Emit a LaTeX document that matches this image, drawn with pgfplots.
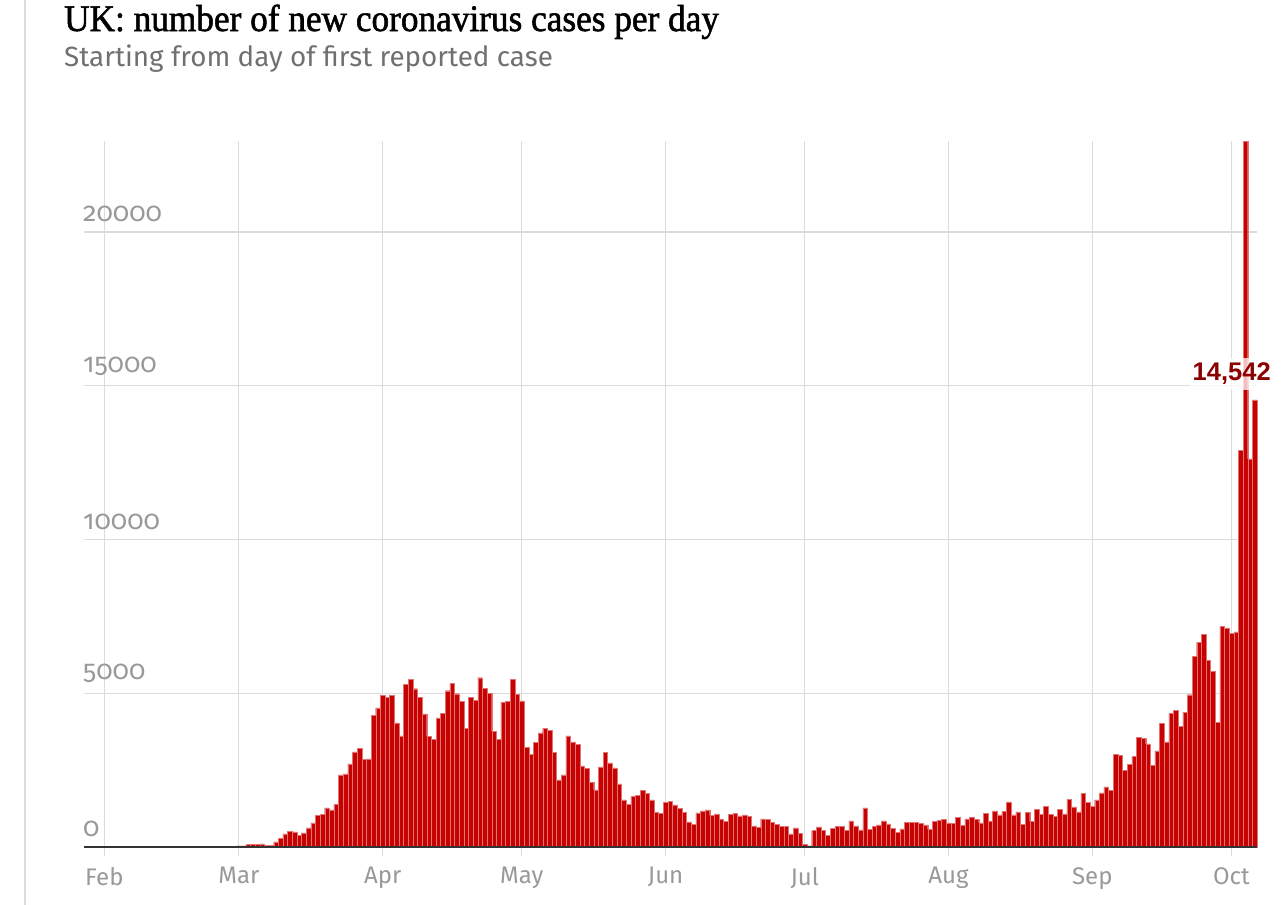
\documentclass[border=0pt]{standalone}
\usepackage{fontspec}
\usepackage{pgfplots}
\usepackage{pgfplotstable}
\pgfplotsset{compat=1.18}
\setmainfont{Fira Sans}
\newfontfamily\titlefont[FakeStretch=0.94,FakeBold=1.5]{Liberation Serif}
\newfontfamily\subfont{Fira Sans}
\newfontfamily\tickfont[Numbers=OldStyle]{Fira Sans}
\newfontfamily\labfont{Liberation Sans}
\definecolor{gred}{HTML}{C70000}
\definecolor{labred}{HTML}{8B0000}
\definecolor{gridc}{HTML}{DCDCDC}
\definecolor{tickgray}{HTML}{999999}
\definecolor{subgray}{HTML}{707070}
\definecolor{axisc}{HTML}{333333}

\pgfplotstableread{
d v
-1 2
0 0
1 0
2 0
3 0
4 0
5 1
6 0
7 1
8 0
9 4
10 0
11 0
12 1
13 0
14 0
15 0
16 0
17 0
18 0
19 0
20 0
21 0
22 0
23 0
24 4
25 0
26 3
27 8
28 20
29 40
30 40
31 76
32 76
33 76
34 98
35 65
36 65
37 163
38 272
39 424
40 500
41 489
42 380
43 456
44 619
45 782
46 1021
47 1064
48 1271
49 1205
50 1390
51 2346
52 2378
53 2704
54 3095
55 3215
56 2845
57 2867
58 4279
59 4528
60 4930
61 4876
62 4930
63 4040
64 3616
65 5300
66 5462
67 5148
68 4865
69 4333
70 3595
71 3508
72 4203
73 4344
74 5082
75 5321
76 4985
77 4735
78 3866
79 4865
80 4778
81 5506
82 5159
83 4996
84 3768
85 3497
86 4713
87 4735
88 5452
89 4974
90 4750
91 3247
92 3008
93 3410
94 3714
95 3855
96 3801
97 3084
98 2183
99 2346
100 3616
101 3421
102 3334
103 2639
104 2552
105 2107
106 1857
107 2606
108 3073
109 2737
110 2574
111 2053
112 1531
113 1379
114 1640
115 1683
116 1835
117 1748
118 1531
119 1129
120 1097
121 1455
122 1488
123 1368
124 1249
125 1129
126 815
127 739
128 1108
129 1173
130 1205
131 1021
132 1075
133 901
134 836
135 1053
136 1097
137 1010
138 1043
139 999
140 684
141 641
142 912
143 901
144 804
145 728
146 662
147 662
148 424
149 619
150 434
151 76
152 33
153 532
154 652
155 543
156 380
157 608
158 662
159 673
160 543
161 847
162 684
163 554
164 1271
165 565
166 673
167 717
168 847
169 749
170 608
171 478
172 586
173 804
174 804
175 804
176 771
177 717
178 576
179 836
180 869
181 901
182 782
183 760
184 967
185 695
186 912
187 967
188 901
189 782
190 1097
191 847
192 1173
193 1043
194 1162
195 1466
196 1043
197 1140
198 738
199 1129
200 836
201 1216
202 1064
203 1325
204 1064
205 999
206 1216
207 1075
208 1553
209 1303
210 1140
211 1748
212 1444
213 1325
214 1531
215 1759
216 1955
217 1835
218 3008
219 2976
220 2487
221 2682
222 2943
223 3562
224 3530
225 3356
226 2650
227 3128
228 4018
229 3421
230 4344
231 4453
232 3920
233 4387
234 4952
235 6201
236 6657
237 6907
238 6071
239 5723
240 4062
241 7168
242 7124
243 6940
244 6994
245 12900
246 22961
247 12620
248 14542
}\cases

\begin{document}
\begin{tikzpicture}
\path[use as bounding box] (0bp,0bp) rectangle (1288bp,-905bp);
\draw[color=gridc, line width=2bp] (25bp,0bp) -- (25bp,-905bp);
\node[anchor=base west, inner sep=0pt] at (64bp,-31bp)
  {\titlefont\fontsize{37.5bp}{40bp}\selectfont UK: number of new coronavirus cases per day};
\node[anchor=base west, inner sep=0pt, text=subgray] at (64bp,-66bp)
  {\subfont\fontsize{27.8bp}{32bp}\selectfont Starting from day of first reported case};
\begin{axis}[
  at={(83.5bp,-847bp)}, anchor=south west,
  width=1173.5bp, height=706bp, scale only axis,
  xmin=-4.5, xmax=248.5, ymin=0, ymax=22961,
  clip=false,
  scaled y ticks=false,
  axis line style={draw=none},
  xtick={0,29,60,90,121,151,182,213,243},
  xticklabels={Feb,Mar,Apr,May,Jun,Jul,Aug,Sep,Oct},
  ytick={0,5000,10000,15000,20000},
  yticklabels={0,5000,10000,15000,20000},
  xmajorgrids, ymajorgrids,
  grid style={draw=gridc, line width=1.2bp},
  tick align=outside,
  xtick pos=bottom,
  major tick length=9bp,
  xtick style={draw=gridc, line width=1.2bp},
  ytick style={draw=none},
  xticklabel style={font=\subfont\fontsize{24bp}{28bp}\selectfont, text=tickgray, anchor=north, inner sep=0pt, yshift=-11bp},
  yticklabel style={font=\tickfont\fontsize{27bp}{30bp}\selectfont, text=tickgray, anchor=south west, inner sep=0pt, xshift=8.5bp, yshift=10bp},
]
\addplot[ybar, bar width=1, bar shift=0pt, fill=gred, draw=gred!55!white, line width=0.35bp] table[x=d, y=v] {\cases};
\draw[axisc, line width=1.6bp] (rel axis cs:0,0) -- (rel axis cs:1,0);
\node[anchor=base, fill=white, fill opacity=0.75, text opacity=1, text=labred,
      inner xsep=3bp, inner ysep=5bp, xshift=-23bp, yshift=19bp,
      font=\labfont\bfseries\fontsize{25.5bp}{28bp}\selectfont] at (axis cs:248,14542) {14,542};
\end{axis}
\end{tikzpicture}
\end{document}
